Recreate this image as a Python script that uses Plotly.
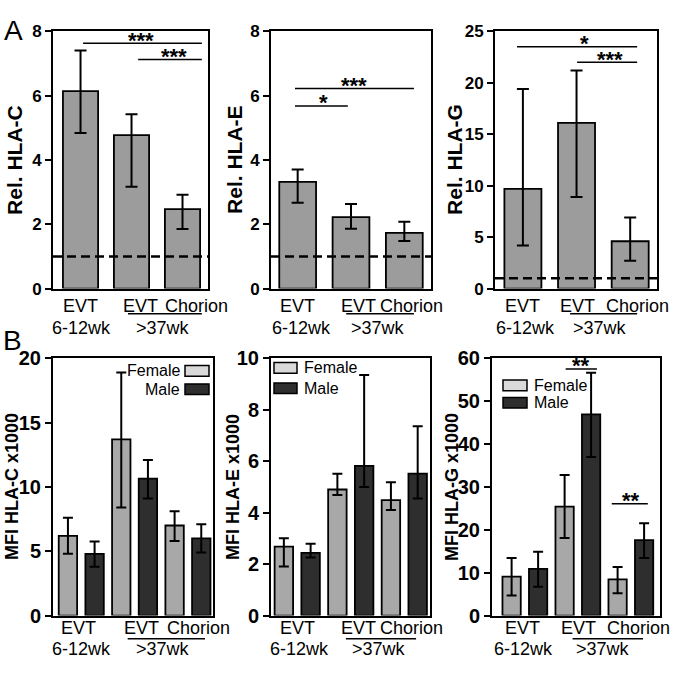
import plotly.graph_objects as go

W, H = 677, 673

# ---- values ----
groups = [0, 1, 2]  # EVT 6-12wk, EVT >37wk, Chorion

rel_c = [6.14, 4.77, 2.47]
rel_c_hi = [7.40, 5.42, 2.92]
rel_c_lo = [4.84, 3.17, 1.85]

rel_e = [3.32, 2.22, 1.73]
rel_e_hi = [3.70, 2.63, 2.08]
rel_e_lo = [2.67, 1.86, 1.48]

rel_g = [9.7, 16.1, 4.6]
rel_g_hi = [19.4, 21.2, 6.9]
rel_g_lo = [4.2, 8.9, 2.7]

mfi_c_female = [6.2, 13.7, 7.0]
mfi_c_female_hi = [7.6, 18.9, 8.1]
mfi_c_female_lo = [4.8, 8.4, 5.8]
mfi_c_male = [4.8, 10.65, 6.0]
mfi_c_male_hi = [5.75, 12.1, 7.1]
mfi_c_male_lo = [3.8, 9.1, 4.9]

mfi_e_female = [2.68, 4.9, 4.49]
mfi_e_female_hi = [3.0, 5.51, 5.18]
mfi_e_female_lo = [1.91, 4.69, 4.1]
mfi_e_male = [2.44, 5.82, 5.52]
mfi_e_male_hi = [2.79, 9.35, 7.36]
mfi_e_male_lo = [2.26, 5.0, 4.55]

mfi_g_female = [9.06, 25.4, 8.45]
mfi_g_female_hi = [13.4, 32.8, 11.3]
mfi_g_female_lo = [4.7, 18.1, 5.2]
mfi_g_male = [10.9, 46.9, 17.6]
mfi_g_male_hi = [14.9, 56.6, 21.5]
mfi_g_male_lo = [6.7, 37.0, 13.4]

GREY = "#9c9c9c"
FEMALE = "#a8a8a8"
MALE = "#2e2e2e"
FEMALE_KEY = "#d9d9d9"
FONT = "Liberation Sans, Arial, sans-serif"


def fx(p):
    return p / W


def fy(p):
    return 1 - p / H


def bar(ax, vals, hi, lo, color, cap):
    return go.Bar(
        x=groups, y=vals, xaxis="x" + ax, yaxis="y" + ax,
        marker=dict(color=color, line=dict(color="black", width=1.8)),
        error_y=dict(
            type="data", symmetric=False,
            array=[h - v for h, v in zip(hi, vals)],
            arrayminus=[v - l for v, l in zip(vals, lo)],
            color="black", thickness=2, width=cap,
        ),
        showlegend=False,
    )


# panel layout: axis id, pixel box (x0, x1, y0, y1), x range, y max, tick step,
# title, title x, title size, tick size
panels = [
    ("", (53, 208, 21, 287), [-0.54, 2.5], 8, 2, "Rel. HLA-C", 15, 21, 17),
    ("2", (271, 431, 21, 287), [-0.5, 2.5], 8, 2, "Rel. HLA-E", 235, 21, 17),
    ("3", (495, 657, 21, 287), [-0.52, 2.5], 25, 5, "Rel. HLA-G", 455, 21, 17),
    ("4", (53, 213, 359, 625), [-0.53, 2.47], 20, 5, "MFI HLA-C x1000", 12, 18, 20),
    ("5", (271, 430, 359, 625), [-0.49, 2.48], 10, 2, "MFI HLA-E x1000", 233, 18, 20),
    ("6", (492, 660, 359, 625), [-0.62, 2.55], 60, 10, "MFI HLA-G x1000", 452, 18, 20),
]

# category label positions per panel (data x):
# EVT, EVT, Chorion, 6-12wk, >37wk, underline start, underline end
label_x = {
    "": (0.0, 1.18, 2.28, 0.02, 1.62, 0.93, 2.38),
    "2": (0.0, 1.14, 2.14, 0.07, 1.5, 0.91, 2.18),
    "3": (0.0, 1.02, 2.14, 0.05, 1.44, 0.88, 2.13),
    "4": (-0.06, 1.12, 2.2, 0.0, 1.54, 0.87, 2.32),
    "5": (0.0, 1.14, 2.14, 0.05, 1.52, 0.91, 2.22),
    "6": (-0.05, 1.02, 2.14, -0.03, 1.47, 0.9, 2.23),
}

fig = go.Figure()

fig.add_trace(bar("", rel_c, rel_c_hi, rel_c_lo, GREY, 6))
fig.add_trace(bar("2", rel_e, rel_e_hi, rel_e_lo, GREY, 6))
fig.add_trace(bar("3", rel_g, rel_g_hi, rel_g_lo, GREY, 6))
fig.add_trace(bar("4", mfi_c_female, mfi_c_female_hi, mfi_c_female_lo, FEMALE, 5))
fig.add_trace(bar("4", mfi_c_male, mfi_c_male_hi, mfi_c_male_lo, MALE, 5))
fig.add_trace(bar("5", mfi_e_female, mfi_e_female_hi, mfi_e_female_lo, FEMALE, 5))
fig.add_trace(bar("5", mfi_e_male, mfi_e_male_hi, mfi_e_male_lo, MALE, 5))
fig.add_trace(bar("6", mfi_g_female, mfi_g_female_hi, mfi_g_female_lo, FEMALE, 5))
fig.add_trace(bar("6", mfi_g_male, mfi_g_male_hi, mfi_g_male_lo, MALE, 5))

layout = {}
shapes = []
annotations = []

for ax, (x0, x1, y0, y1), xr, ymax, step, title, tx, tsize, ksize in panels:
    layout["xaxis" + ax] = dict(
        domain=[fx(x0), fx(x1)], range=xr, anchor="y" + ax,
        showticklabels=False, ticks="", showgrid=False, zeroline=False,
        showline=True, linecolor="black", linewidth=2, mirror=True,
    )
    layout["yaxis" + ax] = dict(
        domain=[fy(y1), fy(y0)], range=[0, ymax], anchor="x" + ax,
        tickvals=list(range(0, ymax + 1, step)), ticks="outside",
        ticklen=6, tickwidth=2, tickcolor="black",
        tickfont=dict(size=ksize, family=FONT, weight="bold", color="black"),
        showgrid=False, zeroline=False,
        showline=True, linecolor="black", linewidth=2, mirror=True,
    )
    annotations.append(dict(
        text=title, xref="paper", yref="paper", x=fx(tx), y=fy((y0 + y1) / 2),
        textangle=-90, showarrow=False, xanchor="center", yanchor="middle",
        font=dict(size=tsize, family=FONT, weight="bold", color="black"),
    ))
    # category labels under the bars
    bottom = y1
    if y0 < 100:
        l1, ul, l2 = bottom + 18, bottom + 26, bottom + 41
    else:
        l1, ul, l2 = bottom + 13, bottom + 24, bottom + 35
    xa = "x" + ax
    e1, e2, ch, w1, w2, u0, u1 = label_x[ax]
    for txt, xv, yy in [("EVT", e1, l1), ("EVT", e2, l1), ("Chorion", ch, l1),
                        ("6-12wk", w1, l2), (">37wk", w2, l2)]:
        annotations.append(dict(
            text=txt, xref=xa, yref="paper", x=xv, y=fy(yy),
            showarrow=False, xanchor="center", yanchor="middle",
            font=dict(size=18, family=FONT, color="black"),
        ))
    shapes.append(dict(type="line", xref=xa, yref="paper", x0=u0, x1=u1,
                       y0=fy(ul), y1=fy(ul), line=dict(color="black", width=1.5)))

# dashed reference line at 1 in the relative expression panels
for ax in ["", "2", "3"]:
    shapes.append(dict(type="line", xref="x" + ax + " domain", yref="y" + ax,
                       x0=0, x1=1, y0=1, y1=1,
                       line=dict(color="black", width=2.5, dash="9px,5px")))

# significance brackets: axis, x0, x1, y, stars, star x
sig = [
    ("", 0.05, 2.38, 7.63, "***", 1.19),
    ("", 1.13, 2.38, 7.12, "***", 1.83),
    ("2", -0.05, 2.18, 6.22, "***", 1.05),
    ("2", -0.05, 0.94, 5.68, "*", 0.48),
    ("3", -0.11, 2.13, 23.5, "*", 1.14),
    ("3", 1.01, 2.13, 22.0, "***", 1.63),
    ("6", 0.77, 1.36, 57.5, "**", 1.06),
    ("6", 1.64, 2.32, 26.1, "**", 2.0),
]
for ax, a, b, yv, stars, sx in sig:
    shapes.append(dict(type="line", xref="x" + ax, yref="y" + ax,
                       x0=a, x1=b, y0=yv, y1=yv,
                       line=dict(color="black", width=1.5)))
    annotations.append(dict(
        text=stars, xref="x" + ax, yref="y" + ax, x=sx, y=yv,
        showarrow=False, xanchor="center", yanchor="middle", yshift=3,
        font=dict(size=22, family=FONT, weight="bold", color="black"),
    ))

# legend keys drawn per panel: (box x0, x1, female y centre, male y centre, text side)
keys = [
    (185, 209, 372, 391, "left"),
    (274, 297, 369, 390, "right"),
    (503, 527, 387, 405, "right"),
]
for bx0, bx1, yf, ym, side in keys:
    for yc, col, label in [(yf, FEMALE_KEY, "Female"), (ym, MALE, "Male")]:
        shapes.append(dict(type="rect", xref="paper", yref="paper",
                           x0=fx(bx0), x1=fx(bx1), y0=fy(yc + 5.5), y1=fy(yc - 5.5),
                           fillcolor=col, line=dict(color="black", width=1.5)))
        if side == "left":
            tx_pos, anchor = fx(bx0 - 3), "right"
        else:
            tx_pos, anchor = fx(bx1 + 5), "left"
        annotations.append(dict(text=label, xref="paper", yref="paper",
                                x=tx_pos, y=fy(yc), xanchor=anchor, yanchor="middle",
                                showarrow=False,
                                font=dict(size=16, family=FONT, color="black")))

# panel letters
for letter, lx, ly in [("A", 13, 20), ("B", 12, 341)]:
    annotations.append(dict(text=letter, xref="paper", yref="paper", x=fx(lx), y=fy(ly),
                            showarrow=False, xanchor="center", yanchor="middle",
                            font=dict(size=28, family=FONT, color="black")))

fig.update_layout(
    width=W, height=H,
    margin=dict(l=0, r=0, t=0, b=0),
    paper_bgcolor="white", plot_bgcolor="white",
    barmode="group", bargap=0, bargroupgap=0.31,
    font=dict(family=FONT, color="black"),
    shapes=shapes, annotations=annotations,
    **layout,
)

# the page's default body margin would push the figure off the window edge
fig.write_html(
    "out.html",
    config={"displayModeBar": False},
    post_script="document.body.style.margin='0px';",
)
